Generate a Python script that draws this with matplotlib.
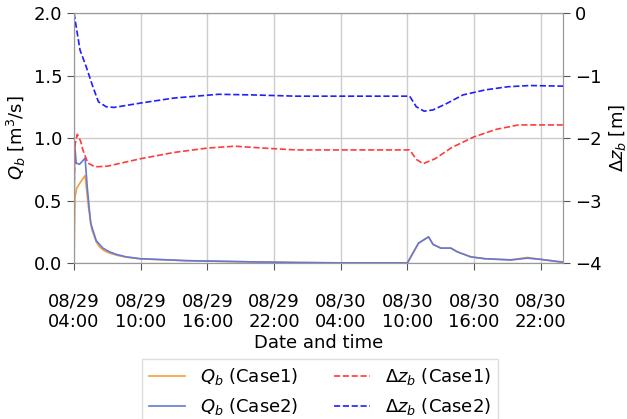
import matplotlib
matplotlib.use("Agg")
import matplotlib.pyplot as plt
import matplotlib.dates as mdates
import numpy as np
import pandas as pd

start = pd.Timestamp("2022-08-29 04:00")
t_end = 44.0  # hours shown

# bed-load discharge Q_b [m3/s], time in hours after start
t_q1 = [0, 0.08, 0.25, 0.6, 1.0, 1.3, 1.6, 2.0, 2.3, 2.7, 3.2, 4.0, 4.7, 6, 8, 10, 13, 16, 20, 24,
        30.0, 30.3, 31.0, 31.9, 32.3, 33.0, 33.9, 34.5, 35.7, 37, 39.3, 40.8, 42, 43.7, 44]
q1 = [0, 0.52, 0.6, 0.65, 0.7, 0.45, 0.27, 0.17, 0.13, 0.1, 0.08, 0.06, 0.048, 0.034, 0.027, 0.02, 0.015, 0.01, 0.005, 0.002,
      0.002, 0.05, 0.16, 0.21, 0.15, 0.12, 0.12, 0.09, 0.05, 0.035, 0.027, 0.045, 0.03, 0.012, 0.01]

t_q2 = [0, 0.05, 0.2, 0.5, 1.0, 1.2, 1.5, 2.0, 2.6, 3.2, 3.8, 4.7, 6, 8, 10, 13, 16, 20, 24,
        30.0, 30.3, 31.0, 31.9, 32.3, 33.0, 33.9, 34.5, 35.7, 37, 39.3, 40.8, 42, 43.7, 44]
q2 = [0, 0.96, 0.8, 0.79, 0.84, 0.6, 0.32, 0.18, 0.12, 0.09, 0.07, 0.05, 0.035, 0.028, 0.02, 0.015, 0.01, 0.005, 0.002,
      0.002, 0.05, 0.16, 0.21, 0.15, 0.12, 0.12, 0.09, 0.05, 0.035, 0.025, 0.04, 0.03, 0.01, 0.008]

# bed level change dz_b [m]
t_z1 = [0, 0.1, 0.3, 0.6, 0.8, 1.25, 1.9, 3.0, 6, 9, 12, 14.5, 17, 20, 30.2, 30.8, 31.4, 32.5, 34, 36, 38, 40, 44]
z1 = [-2.85, -2.1, -1.94, -2.05, -2.19, -2.4, -2.46, -2.45, -2.33, -2.23, -2.16, -2.13, -2.16, -2.19, -2.19,
      -2.34, -2.41, -2.33, -2.15, -1.98, -1.86, -1.79, -1.79]

t_z2 = [0, 0.54, 1.1, 1.7, 2.2, 2.9, 3.6, 6, 9, 13, 16, 20, 30.2, 30.8, 31.5, 32.3, 33.5, 35, 37, 39, 41, 44]
z2 = [0, -0.59, -0.86, -1.18, -1.42, -1.5, -1.51, -1.44, -1.36, -1.3, -1.31, -1.33, -1.33, -1.5, -1.57, -1.55,
      -1.45, -1.31, -1.23, -1.18, -1.16, -1.17]


def to_time(hours):
    return start + pd.to_timedelta(np.array(hours), unit="h")


plt.rcParams["font.size"] = 13
fig = plt.figure(figsize=(6.27, 4.19), dpi=100)
ax = fig.add_axes([0.118, 0.372, 0.780, 0.597])
ax2 = ax.twinx()

l1, = ax.plot(to_time(t_q1), q1, color="#f5a03a", lw=1.2, label="$Q_b$ (Case1)")
l2, = ax.plot(to_time(t_q2), q2, color="#6478d8", lw=1.2, label="$Q_b$ (Case2)")
l3, = ax2.plot(to_time(t_z1), z1, color="#ff3b3b", lw=1.2, ls="--", label=r"$\Delta z_b$ (Case1)")
l4, = ax2.plot(to_time(t_z2), z2, color="#1f1fff", lw=1.2, ls="--", label=r"$\Delta z_b$ (Case2)")

ax.set_xlim(start, start + pd.Timedelta(hours=t_end))
ax.set_ylim(0, 2.0)
ax.set_yticks([0, 0.5, 1.0, 1.5, 2.0])
ax2.set_ylim(-4, 0)
ax2.set_yticks([0, -1, -2, -3, -4])

ax.xaxis.set_major_locator(mdates.HourLocator(byhour=[4, 10, 16, 22]))
ax.xaxis.set_major_formatter(mdates.DateFormatter("%m/%d\n%H:%M"))
ax.grid(True, color="#cccccc", lw=1)
ax.set_axisbelow(True)

for a in (ax, ax2):
    for s in a.spines.values():
        s.set_color("#999999")
    a.tick_params(color="#555555", length=5)
ax.tick_params(axis="x", pad=16)

ax.set_xlabel("Date and time", labelpad=2)
ax.set_ylabel("$Q_b$ [m$^3$/s]")
ax2.set_ylabel(r"$\Delta z_b$ [m]")

fig.legend(handles=[l1, l2, l3, l4], ncol=2, loc="upper center",
           bbox_to_anchor=(0.51, 0.165), fontsize=13, columnspacing=2.0,
           fancybox=False, framealpha=1, edgecolor="#dddddd")

fig.savefig("out.png", dpi=100)
